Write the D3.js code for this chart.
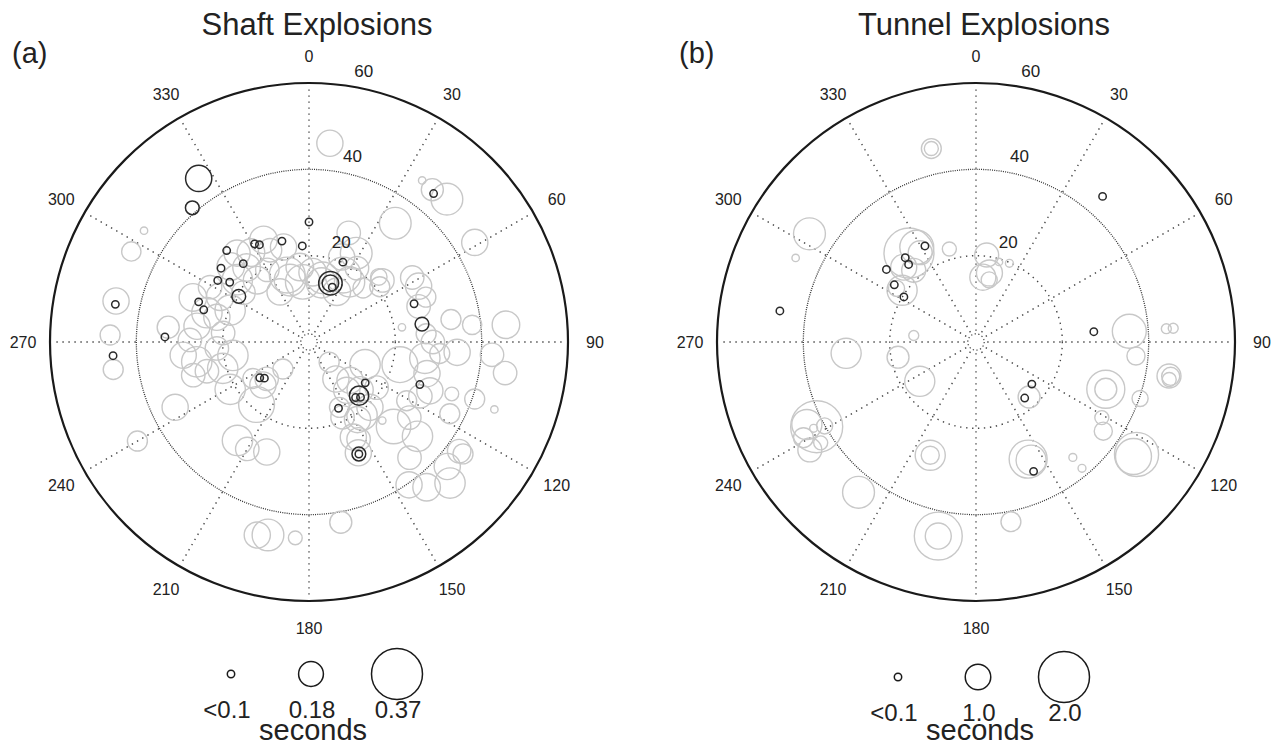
<!DOCTYPE html>
<html>
<head>
<meta charset="utf-8">
<script src="https://cdn.jsdelivr.net/npm/d3@7"></script>
<style>
body { margin: 0; background: #fff; }
text { font-family: "Liberation Sans", Arial, Helvetica, sans-serif; fill: #222; }
</style>
</head>
<body>
<div id="chart"></div>
<script>
// [azimuth (deg), distance (deg), duration (s)]
var shaftGray = [
  [304,46.1,0.05],[297,46.2,0.14],[282,45.7,0.19],[272,46.1,0.145],[276,32.8,0.16],
  [291,28.8,0.20],[286,24.6,0.22],[278,26.2,0.19],[297,23.1,0.20],[285,22.1,0.19],
  [292,19.7,0.22],[299,26.2,0.17],[311,22.0,0.22],[320,22.5,0.20],[327,24.7,0.20],
  [336,25.9,0.20],[337,23.1,0.17],[345,22.8,0.19],[321,26.5,0.19],[320,18.7,0.20],
  [307,19.0,0.17],[343,15.0,0.23],[353,17.5,0.20],[330,19.3,0.17],[314,25.2,0.20],
  [271,27.6,0.17],[276,20.0,0.17],[342,16.3,0.26],[354,14.0,0.25],[330,13.4,0.19],
  [27,17.4,0.26],[34,16.8,0.22],[12,15.2,0.23],[3,16.2,0.20],[33,20.4,0.17],
  [29,13.3,0.20],[45,17.7,0.145],[20,26.9,0.17],[6,46.3,0.19],[35,45.7,0.05],
  [44,46.0,0.23],[39,45.4,0.16],[36,34.0,0.23],[59,44.8,0.19],[28,23.3,0.23],
  [21,21.1,0.19],[47,22.1,0.12],[50,22.2,0.17],[58,28.2,0.17],[63,28.5,0.19],
  [72,26.7,0.17],[69,29.0,0.145],[81,21.8,0.05],[81,33.3,0.145],[84,38.0,0.14],
  [85,45.8,0.20],[86,27.2,0.145],[12,14.0,0.22],[52,20.8,0.145],[98,27.1,0.22],
  [95,30.4,0.145],[94,34.4,0.19],[90,28.7,0.17],[94,42.5,0.17],[99,46.0,0.17],
  [110,35.2,0.10],[109,40.6,0.145],[110,45.7,0.05],[117,36.6,0.145],[105,28.3,0.19],
  [112,30.2,0.19],[104,21.7,0.26],[116,28.7,0.17],[121,26.4,0.145],[127,29.1,0.17],
  [135,27.7,0.25],[131,33.3,0.22],[139,35.5,0.17],[132,43.1,0.19],[126,43.0,0.17],
  [137,24.9,0.05],[112,14.0,0.22],[133,13.0,0.19],[142,14.2,0.19],[133,16.2,0.19],
  [155,16.7,0.145],[156,19.1,0.17],[148,21.2,0.19],[155,24.3,0.19],[156,28.1,0.19],
  [137,20.7,0.19],[124,18.9,0.17],[145,40.4,0.19],[141,43.3,0.20],[135,46.2,0.22],
  [170,42.4,0.16],[144,20.9,0.22],[144,10.6,0.19],[135,6.6,0.145],[153,25.3,0.17],
  [126,44.1,0.145],[262,45.8,0.145],[244,34.5,0.19],[240,45.9,0.145],[216,28.2,0.22],
  [210,28.6,0.17],[201,27.3,0.19],[195,46.3,0.19],[192,45.7,0.23],[184,45.5,0.10],
  [264,29.3,0.19],[260,26.4,0.22],[254,27.9,0.17],[254,24.6,0.17],[253,20.9,0.22],
  [260,17.9,0.22],[266,21.4,0.17],[239,21.3,0.22],[220,18.9,0.26],[229,13.0,0.17],
  [237,15.5,0.145],[227,14.6,0.19],[224,8.7,0.145]
];
var shaftBlack = [
  [326,45.7,0.19],[319,41.2,0.10],[318,28.5,0.05],[331,26.0,0.05],[333,25.3,0.05],
  [345,24.2,0.05],[356,22.3,0.05],[0,27.8,0.05],[320,23.7,0.05],[310,26.6,0.05],
  [304,25.5,0.05],[307,23.0,0.05],[303,19.4,0.10],[290,27.2,0.05],[287,25.5,0.05],
  [281,45.7,0.05],[272,33.4,0.05],[23,20.1,0.05],[20,14.5,0.17],[20,14.5,0.12],
  [23,13.8,0.05],[40,44.9,0.05],[70,25.9,0.05],[81,26.5,0.10],[126,16.1,0.05],
  [111,27.5,0.05],[140,16.8,0.05],[137,17.5,0.05],[137,17.0,0.14],[156,16.8,0.05],
  [156,28.4,0.10],[156,28.4,0.05],[266,45.5,0.05],[234,14.1,0.05],[231,13.3,0.05]
];
var tunnelGray = [
  [347,46.0,0.78],[347,46.0,0.55],[303,46.0,1.25],[295,46.1,0.1],[323,25.8,1.96],
  [328,25.9,1.33],[328,24.4,0.94],[316,24.1,1.02],[319,22.0,0.94],[305,20.9,1.18],
  [304,22.2,0.63],[344,22.4,0.55],[276,14.5,0.39],[265,30.2,1.18],[7,20.3,0.94],
  [11,16.3,1.02],[6,15.1,1.02],[12,14.7,0.63],[23,19.8,0.31],[16,19.3,0.27],
  [86,35.6,1.33],[86,44.2,0.39],[86,45.8,0.39],[259,18.4,0.86],[235,15.9,1.18],
  [242,41.8,2.04],[244,43.6,1.18],[241,40.1,0.63],[242,42.6,0.31],[241,45.7,0.78],
  [237,42.9,0.55],[237,45.9,0.94],[202,28.3,1.18],[202,28.3,0.71],[218,44.2,1.25],
  [191,45.8,1.88],[191,45.8,1.02],[136,17.7,0.86],[95,37.2,0.71],[100,45.4,0.94],
  [101,45.6,0.55],[100,45.8,0.71],[110,32.0,1.49],[110,32.0,0.86],[109,40.2,0.63],
  [121,34.0,0.55],[125,36.0,0.71],[125,45.4,1.73],[126,45.1,1.41],[156,29.7,1.49],
  [155,30.2,1.18],[140,34.9,0.31],[140,38.2,0.31],[169,42.4,0.78]
];
var tunnelBlack = [
  [332,25.2,0.05],[320,25.5,0.05],[319,23.8,0.05],[309,26.7,0.05],[305,23.1,0.05],
  [302,19.7,0.05],[279,46.0,0.05],[41,44.7,0.05],[85,27.4,0.05],[127,16.2,0.05],
  [139,17.2,0.05],[156,32.8,0.05]
];

var azimuthTicks = [0,30,60,90,120,150,180,210,240,270,300,330];
var distanceTicks = [20,40,60];
var shaftLegend = [0.05,0.18,0.37];
var shaftLegendLabels = ["<0.1","0.18","0.37"];
var tunnelLegend = [0.05,1.0,2.0];
var tunnelLegendLabels = ["<0.1","1.0","2.0"];

var width = 1278, height = 750;
var outerR = 259;

var svg = d3.select("#chart").append("svg")
    .attr("width", width)
    .attr("height", height);

var dist = d3.scaleLinear().domain([0, 60]).range([0, outerR]);
var rad = function(a) { return a * Math.PI / 180; };

function drawPanel(cx, cy, title, letter, gray, black, maxSec, legVals, legLabels, legShift) {
    var g = svg.append("g").attr("transform", "translate(" + cx + "," + cy + ")");
    var size = d3.scaleLinear().domain([0, maxSec]).range([0, 25.5]);
    var r = function(v) { return Math.max(3.7, size(v)); };
    var pos = function(d) { return d3.pointRadial(rad(d[0]), dist(d[1])); };

    // spokes
    g.selectAll(".spoke").data(azimuthTicks).enter().append("line")
        .attr("x1", function(d) { return d3.pointRadial(rad(d), dist(2.6))[0]; })
        .attr("y1", function(d) { return d3.pointRadial(rad(d), dist(2.6))[1]; })
        .attr("x2", function(d) { return d3.pointRadial(rad(d), dist(59.4))[0]; })
        .attr("y2", function(d) { return d3.pointRadial(rad(d), dist(59.4))[1]; })
        .attr("stroke", "#444")
        .attr("stroke-width", 1.4)
        .attr("stroke-dasharray", "1.4,4.6");

    // small centre ring
    g.append("circle").attr("r", dist(1.9))
        .attr("fill", "none").attr("stroke", "#444")
        .attr("stroke-width", 1.2).attr("stroke-dasharray", "1.3,2.4");

    // 20 and 40 rings, outer 60
    g.append("circle").attr("r", dist(20))
        .attr("fill", "none").attr("stroke", "#444")
        .attr("stroke-width", 1.4).attr("stroke-dasharray", "1.4,4.6");
    g.append("circle").attr("r", dist(40))
        .attr("fill", "none").attr("stroke", "#333")
        .attr("stroke-width", 1.3).attr("stroke-dasharray", "1,1.2");
    g.append("circle").attr("r", dist(60))
        .attr("fill", "none").attr("stroke", "#1a1a1a")
        .attr("stroke-width", 2.2);

    // events
    g.append("g").selectAll("circle").data(gray).enter().append("circle")
        .attr("cx", function(d) { return pos(d)[0]; })
        .attr("cy", function(d) { return pos(d)[1]; })
        .attr("r", function(d) { return r(d[2]); })
        .attr("fill", "none")
        .attr("stroke", "#c8c8c8")
        .attr("stroke-width", 1.4);
    g.append("g").selectAll("circle").data(black).enter().append("circle")
        .attr("cx", function(d) { return pos(d)[0]; })
        .attr("cy", function(d) { return pos(d)[1]; })
        .attr("r", function(d) { return r(d[2]); })
        .attr("fill", "none")
        .attr("stroke", "#2a2a2a")
        .attr("stroke-width", 1.5);

    // azimuth labels
    g.selectAll(".az").data(azimuthTicks).enter().append("text")
        .attr("x", function(d) { return d3.pointRadial(rad(d), outerR + 27)[0]; })
        .attr("y", function(d) { return d3.pointRadial(rad(d), outerR + 27)[1]; })
        .attr("text-anchor", "middle")
        .attr("dominant-baseline", "central")
        .style("font-size", "16px")
        .text(function(d) { return d; });

    // distance labels
    g.selectAll(".dl").data(distanceTicks).enter().append("text")
        .attr("x", function(d) { return d3.pointRadial(rad(7.5), dist(d))[0] + 21; })
        .attr("y", function(d) { return d3.pointRadial(rad(7.5), dist(d))[1] - 14; })
        .attr("text-anchor", "middle")
        .attr("dominant-baseline", "central")
        .style("font-size", "17px")
        .text(function(d) { return d; });

    // title
    g.append("text").attr("x", 8).attr("y", 35 - cy)
        .attr("text-anchor", "middle")
        .style("font-size", "31px")
        .text(title);
    g.append("text").attr("x", -297).attr("y", 63 - cy)
        .style("font-size", "29px")
        .text(letter);

    // legend
    var lx = [-78, 2, 88];
    var leg = g.append("g").attr("transform", "translate(0," + 332 + ")");
    leg.selectAll("circle").data(legVals).enter().append("circle")
        .attr("cx", function(d, i) { return lx[i]; })
        .attr("cy", legShift)
        .attr("r", function(d) { return r(d); })
        .attr("fill", "none")
        .attr("stroke", "#1a1a1a")
        .attr("stroke-width", 1.5);
    leg.selectAll("text").data(legLabels).enter().append("text")
        .attr("x", function(d, i) { return lx[i] + (i == 0 ? -4 : 1); })
        .attr("y", 44 + legShift)
        .attr("text-anchor", "middle")
        .style("font-size", "24px")
        .text(function(d) { return d; });
    leg.append("text").attr("x", 4).attr("y", 66)
        .attr("text-anchor", "middle")
        .style("font-size", "29px")
        .text("seconds");
}

drawPanel(309, 342, "Shaft Explosions", "(a)", shaftGray, shaftBlack, 0.37, shaftLegend, shaftLegendLabels, 0);
drawPanel(976, 342, "Tunnel Explosions", "(b)", tunnelGray, tunnelBlack, 2.0, tunnelLegend, tunnelLegendLabels, 3);
</script>
</body>
</html>
